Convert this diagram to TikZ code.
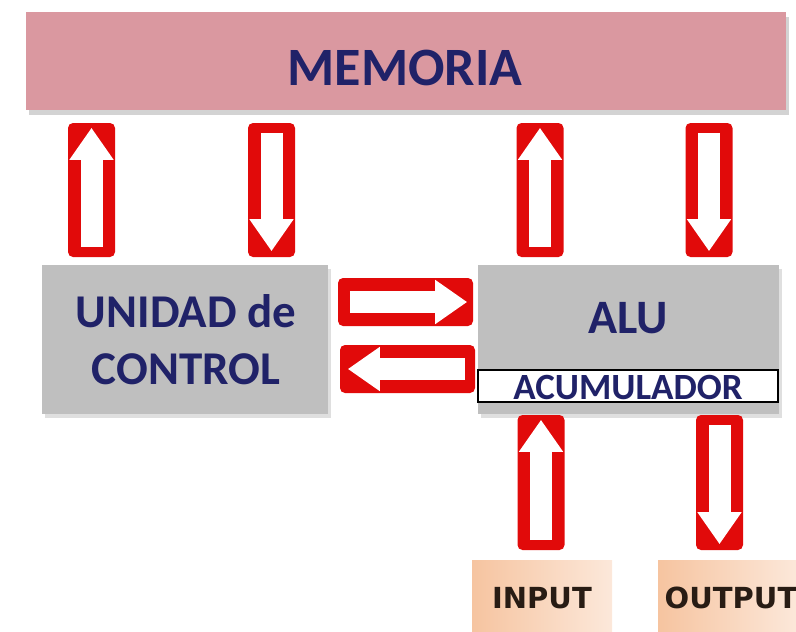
\documentclass[tikz,border=0pt]{standalone}
\usepackage{fontspec}
\setmainfont{Carlito}
\newfontfamily\verdanafont{DejaVu Sans}
\usetikzlibrary{arrows.meta,shadows}
\definecolor{memopink}{RGB}{218,152,160}
\definecolor{boxgray}{RGB}{191,191,191}
\definecolor{navy}{RGB}{32,34,104}
\definecolor{barred}{RGB}{225,10,10}
\definecolor{peach}{RGB}{246,196,160}
\definecolor{peachlight}{RGB}{252,232,218}
\definecolor{iotext}{RGB}{40,28,20}

\begin{document}
\begin{tikzpicture}[x=1pt,y=-1pt,
    title/.style={font=\bfseries\fontsize{#1}{#1}\selectfont, text=navy, anchor=base, inner sep=0},
    title/.default=48,
    graybox/.style={fill=boxgray, draw=none, drop shadow={shadow xshift=3pt, shadow yshift=-4pt, opacity=.25}},
    redbar/.style={fill=barred, rounded corners=5pt, inner sep=0},
    vbar/.style={redbar, minimum width=47, minimum height=134},
    hbar/.style={redbar, minimum width=135, minimum height=48},
    whitearrow/.style={white, line width=22pt, -{Triangle[width=42pt,length=32pt]}},
    iobox/.style={left color=peach, right color=peachlight, minimum height=72, inner sep=0}]
\useasboundingbox (0,0) rectangle (796,632);

% memoria
\node[fill=memopink, minimum width=760, minimum height=98, inner sep=0,
      drop shadow={shadow xshift=3pt, shadow yshift=-5pt, opacity=.35}] (mem) at (406,61) {};
\node[title=54] (memtext) at (405,85) {MEMORIA};

% unidad de control y ALU
\node[graybox, minimum width=286, minimum height=149, inner sep=0] (uc) at (185,339.5) {};
\node[title=47] (uc1) at (186,327) {UNIDAD de};
\node[title=47] (uc2) at (186,384) {CONTROL};
\node[graybox, minimum width=301, minimum height=149, inner sep=0] (alu) at (628.5,339.5) {};
\node[title=48] (alutext) at (628,333) {ALU};
\node[fill=white, draw=black, line width=1.2pt, minimum width=300, minimum height=32, inner sep=0] (acc) at (628,386) {};
\node[title=37] (acctext) at (628,399) {ACUMULADOR};

% flechas memoria
\node[vbar] (b1) at (91.5,190) {};
\node[vbar] (b2) at (271.5,190) {};
\node[vbar] (b3) at (540,190) {};
\node[vbar] (b4) at (709,190) {};
\draw[whitearrow] ([yshift=10pt]b1.south) -- ([yshift=-5pt]b1.north);
\draw[whitearrow] ([yshift=-10pt]b2.north) -- ([yshift=6pt]b2.south);
\draw[whitearrow] ([yshift=10pt]b3.south) -- ([yshift=-5pt]b3.north);
\draw[whitearrow] ([yshift=-10pt]b4.north) -- ([yshift=6pt]b4.south);

% flechas entre UC y ALU
\node[hbar] (h1) at (405.5,302) {};
\node[hbar] (h2) at (407.5,369) {};
\draw[whitearrow] ([xshift=12pt]h1.west) -- ([xshift=-6pt]h1.east);
\draw[whitearrow] ([xshift=-10pt]h2.east) -- ([xshift=8pt]h2.west);

% entrada y salida
\node[vbar, minimum height=135] (b5) at (541,482.5) {};
\node[vbar, minimum height=135] (b6) at (719.5,482.5) {};
\draw[whitearrow] ([yshift=10pt]b5.south) -- ([yshift=-5pt]b5.north);
\draw[whitearrow] ([yshift=-10pt]b6.north) -- ([yshift=6pt]b6.south);

\node[iobox, minimum width=140] (in) at (542,596) {};
\node[iobox, minimum width=140] (out) at (728,596) {};
\node[font=\verdanafont\bfseries\fontsize{29}{29}\selectfont, text=iotext, anchor=base, inner sep=0] (intext) at (542,608) {INPUT};
\node[font=\verdanafont\bfseries\fontsize{29}{29}\selectfont, text=iotext, anchor=base, inner sep=0] (outtext) at (731,608) {OUTPUT};
\end{tikzpicture}
\end{document}
